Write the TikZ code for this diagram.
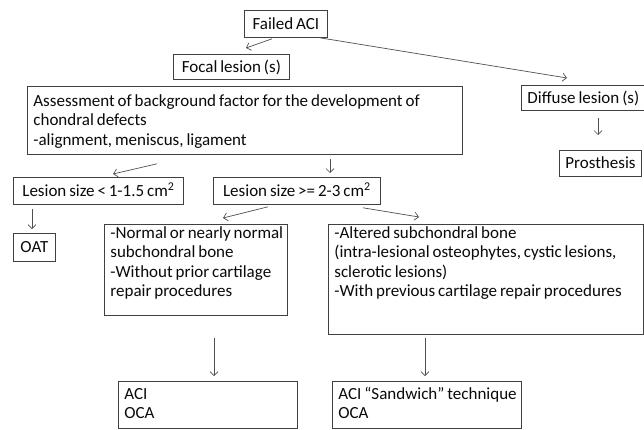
\documentclass[tikz,border=0pt]{standalone}
\usepackage{fontspec}
\setmainfont{Carlito}[WordSpace=0.75]
\usetikzlibrary{arrows.meta}
\definecolor{linec}{HTML}{404040}
\definecolor{arrc}{HTML}{505050}
\definecolor{txtc}{HTML}{0A0A0A}
\newcommand\tightsp{\spaceskip=0.17em plus 0.03em\relax\xspaceskip=0.17em\relax}
\begin{document}
\begin{tikzpicture}[x=1pt,y=-1pt,
  font=\fontsize{17}{19.5}\selectfont,
  bx/.style={draw=linec, line width=0.8pt, anchor=north west, inner xsep=6pt, inner ysep=0pt, text=txtc},
  one/.style={bx},
  many/.style={bx},
  arr/.style={draw=arrc, line width=0.7pt, -{Straight Barb[length=4pt,width=8pt]}}]
\fill[white] (0,0) rectangle (644,429);
\useasboundingbox (0,0) rectangle (644,429);

% single-line boxes
\node[one, minimum width=83pt, text height=19pt, text depth=8pt] (fail) at (244,10) {Failed ACI};
\node[one, minimum width=116pt, text height=18pt, text depth=7pt] (focal) at (173,54) {Focal lesion (s)};
\node[one, minimum width=123pt, text height=18pt, text depth=7pt] (diffuse) at (521,85) {Diffuse lesion (s)};
\node[one, minimum width=82pt, text height=18.5pt, text depth=7.5pt] (prosth) at (559,150) {Prosthesis};
\node[one, minimum width=170pt, text height=19pt, text depth=8pt] (lsmall) at (13,177) {Lesion size < 1-1.5 cm\textsuperscript{2}};
\node[one, minimum width=167pt, text height=19pt, text depth=8pt] (lbig) at (213,177) {Lesion size >= 2-3 cm\textsuperscript{2}};
\node[one, minimum width=42pt, text height=19.5pt, text depth=8.5pt] (oat) at (13,233) {OAT};

% multi-line boxes
\node[many, text width=423pt, text height=20pt, text depth=48pt] (assess) at (27,86)
  {\tightsp\mbox{Assessment of background factor for the development of}\\ \mbox{chondral defects}\\ \mbox{-alignment, meniscus, ligament}};
\node[many, text width=171pt, text height=14pt, text depth=77pt] (normal) at (104,224)
  {\tightsp\mbox{-Normal or nearly normal}\\ \mbox{subchondral bone}\\ \mbox{-Without prior cartilage}\\ \mbox{repair procedures}};
\node[many, text width=303pt, text height=14pt, text depth=96pt] (altered) at (328,224)
  {\tightsp\mbox{-Altered subchondral bone}\\ \mbox{(intra-lesional osteophytes, cystic lesions,}\\ \mbox{sclerotic lesions)}\\ \mbox{-With previous cartilage repair procedures}};
\node[many, text width=167pt, text height=18pt, text depth=29pt] (aci) at (118,381)
  {\tightsp\mbox{ACI}\\ \mbox{OCA}};
\node[many, text width=177pt, text height=18pt, text depth=29pt] (sandw) at (332,381)
  {\tightsp\mbox{ACI “Sandwich” technique}\\ \mbox{OCA}};

% free arrow ends
\coordinate (tFocal) at (246,48);
\coordinate (tDiffuse) at (567,78);
\coordinate (tLsmall) at (113,174);
\coordinate (tLbig) at (330,173);
\coordinate (tProsth) at (598,135);
\coordinate (tOat) at (32,229);
\coordinate (tNormal) at (223,218);
\coordinate (tAltered) at (419,217);
\coordinate (tAci) at (214,376);
\coordinate (tSandw) at (425,376);

% connectors
\draw[arr] ([xshift=28pt,yshift=-1pt]fail.south west) -- (tFocal);
\draw[arr] ([xshift=76pt]fail.south west) -- (tDiffuse);
\draw[arr] ([xshift=130pt,yshift=-9pt]assess.south west) -- (tLsmall);
\draw[arr] ([xshift=303pt,yshift=-4pt]assess.south west) -- (tLbig);
\draw[arr] ([xshift=77pt,yshift=-7pt]diffuse.south west) -- (tProsth);
\draw[arr] ([xshift=19pt,yshift=-4pt]lsmall.south west) -- (tOat);
\draw[arr] ([xshift=55pt,yshift=-2pt]lbig.south west) -- (tNormal);
\draw[arr] ([xshift=150pt,yshift=-3pt]lbig.south west) -- (tAltered);
\draw[arr] ([xshift=110pt,yshift=-22pt]normal.south west) -- (tAci);
\draw[arr] ([xshift=97pt,yshift=-3pt]altered.south west) -- (tSandw);
\end{tikzpicture}
\end{document}
